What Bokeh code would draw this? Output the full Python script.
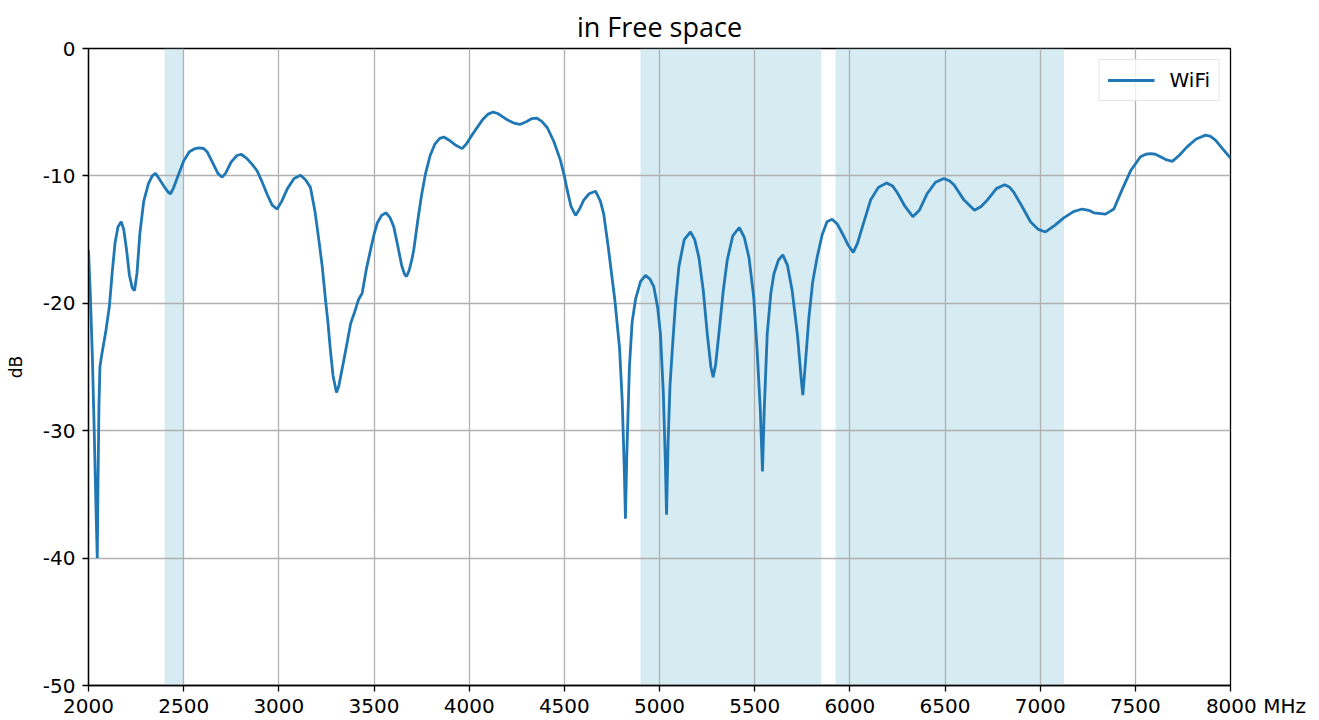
from bokeh.plotting import figure
from bokeh.models import Legend, LegendItem, FixedTicker, ColumnDataSource
from bokeh.embed import file_html
from bokeh.resources import INLINE

# ---- data ----
band_start = [2400, 4900, 5925]
band_end = [2500, 5850, 7125]

freq = [2000, 2010, 2020, 2030, 2040, 2046, 2050, 2055, 2060, 2070, 2090, 2110, 2125, 2140, 2155, 2172,
        2185, 2200, 2215, 2230, 2242, 2255, 2270, 2290, 2315, 2335, 2352, 2375, 2400, 2420, 2431, 2445,
        2470, 2501, 2530, 2560, 2580, 2605, 2623, 2650, 2680, 2702, 2720, 2750, 2780, 2802, 2830, 2860,
        2886, 2910, 2940, 2965, 2991, 3015, 3045, 3080, 3114, 3140, 3166, 3190, 3210, 3228, 3245, 3258,
        3271, 3285, 3303, 3315, 3324, 3341, 3360, 3377, 3400, 3419, 3438, 3460, 3482, 3500, 3517, 3540,
        3564, 3585, 3604, 3625, 3645, 3660, 3671, 3685, 3700, 3709, 3730, 3750, 3771, 3795, 3820, 3845,
        3867, 3895, 3930, 3963, 3985, 4010, 4042, 4070, 4100, 4126, 4150, 4175, 4200, 4235, 4266, 4300,
        4330, 4354, 4380, 4410, 4445, 4480, 4500, 4515, 4535, 4559, 4580, 4602, 4630, 4664, 4690, 4707,
        4730, 4765, 4790, 4804, 4815, 4821, 4828, 4842, 4856, 4874, 4900, 4926, 4950, 4970, 4990, 5005,
        5020, 5030, 5037, 5045, 5055, 5067, 5085, 5102, 5130, 5163, 5185, 5207, 5230, 5251, 5270, 5282,
        5295, 5312, 5335, 5356, 5385, 5419, 5445, 5470, 5495, 5513, 5530, 5541, 5550, 5566, 5585, 5601,
        5625, 5648, 5672, 5697, 5725, 5745, 5753, 5765, 5785, 5805, 5828, 5855, 5880, 5907, 5935, 5960,
        5990, 6018, 6040, 6070, 6109, 6150, 6193, 6225, 6249, 6290, 6331, 6365, 6406, 6450, 6494, 6525,
        6547, 6600, 6655, 6690, 6722, 6770, 6813, 6840, 6862, 6905, 6949, 6990, 7028, 7075, 7124, 7175,
        7221, 7255, 7282, 7343, 7365, 7387, 7430, 7475, 7527, 7555, 7580, 7605, 7632, 7665, 7694, 7730,
        7773, 7820, 7869, 7895, 7921, 7960, 8000]

wifi_db = [-15.8, -19.5, -24.0, -30.0, -36.5, -40.0, -34.0, -28.0, -25.0, -24.0, -22.3, -20.2, -17.5, -15.2, -14.0, -13.6,
           -14.2, -15.8, -17.8, -18.8, -19.0, -17.6, -14.5, -12.0, -10.6, -10.0, -9.8, -10.3, -10.9, -11.3, -11.4, -11.0,
           -10.0, -8.8, -8.1, -7.85, -7.8, -7.85, -8.1, -8.9, -9.8, -10.1, -9.8, -8.9, -8.4, -8.3, -8.6, -9.1,
           -9.6, -10.4, -11.5, -12.3, -12.6, -12.0, -11.0, -10.2, -9.95, -10.3, -10.9, -12.8, -15.0, -17.1, -19.7, -21.5,
           -23.7, -25.7, -27.0, -26.5, -25.8, -24.5, -23.0, -21.6, -20.6, -19.7, -19.2, -17.3, -15.8, -14.6, -13.7, -13.1,
           -12.9, -13.3, -14.0, -15.5, -17.0, -17.7, -17.9, -17.4, -16.5, -15.8, -13.5, -11.5, -9.8, -8.4, -7.5, -7.05,
           -6.95, -7.2, -7.6, -7.86, -7.5, -6.9, -6.2, -5.6, -5.15, -4.99, -5.1, -5.35, -5.6, -5.85, -5.96, -5.75,
           -5.5, -5.46, -5.7, -6.2, -7.3, -8.8, -10.0, -11.1, -12.4, -13.1, -12.6, -11.9, -11.4, -11.2, -12.0, -13.0,
           -15.5, -19.7, -23.5, -27.6, -33.0, -36.9, -32.0, -25.0, -21.5, -19.7, -18.3, -17.8, -18.1, -18.7, -20.3, -22.4,
           -27.0, -32.0, -36.6, -31.0, -26.5, -23.7, -19.8, -17.1, -15.0, -14.4, -15.0, -16.4, -19.0, -22.4, -25.0, -25.8,
           -24.8, -22.4, -19.0, -16.6, -14.7, -14.05, -14.8, -16.4, -19.5, -23.7, -28.5, -33.2, -28.5, -22.4, -19.2, -17.7,
           -16.6, -16.2, -17.0, -19.0, -22.5, -26.0, -27.2, -25.0, -21.1, -18.3, -16.4, -14.6, -13.6, -13.4, -13.8, -14.5,
           -15.4, -16.0, -15.3, -13.8, -11.9, -10.9, -10.55, -10.8, -11.3, -12.4, -13.2, -12.7, -11.4, -10.5, -10.2, -10.4,
           -10.7, -11.9, -12.7, -12.4, -11.9, -11.0, -10.7, -10.9, -11.3, -12.4, -13.6, -14.2, -14.4, -13.9, -13.3, -12.8,
           -12.6, -12.7, -12.9, -13.0, -12.8, -12.6, -11.1, -9.6, -8.5, -8.3, -8.25, -8.3, -8.5, -8.75, -8.86, -8.4,
           -7.7, -7.1, -6.8, -6.9, -7.2, -7.9, -8.6]

x_ticks = [2000, 2500, 3000, 3500, 4000, 4500, 5000, 5500, 6000, 6500, 7000, 7500, 8000]
y_ticks = [-50, -40, -30, -20, -10, 0]
x_unit = "MHz"

# ---- figure ----
p = figure(width=1319, height=720, x_range=(2000, 8000), y_range=(-50, 0),
           output_backend="svg", toolbar_location=None,
           min_border_left=88, min_border_right=89, min_border_top=48, min_border_bottom=0,
           title="in Free space")

p.title.align = "center"
p.title.vertical_align = "top"
p.title.text_font = "Open Sans"
p.title.text_font_size = "27px"
p.title.text_font_style = "normal"
p.title.text_color = "black"
p.title.standoff = 4

# shaded WiFi bands
p.quad(left=band_start, right=band_end, bottom=-50, top=0,
       fill_color="#add8e6", fill_alpha=0.5, line_color=None, level="underlay")

src = ColumnDataSource(dict(f=freq, db=wifi_db))
r = p.line("f", "db", source=src, line_color="#1f77b4", line_width=2.8)

# axes
for ax in (p.xaxis[0], p.yaxis[0]):
    ax.major_label_text_font = "DejaVu Sans"
    ax.major_label_text_font_size = "20px"
    ax.major_label_text_color = "black"
    ax.axis_line_color = "black"
    ax.axis_line_width = 1.3
    ax.major_tick_line_color = "black"
    ax.major_tick_line_width = 1.3
    ax.major_tick_out = 6
    ax.major_tick_in = 0
    ax.minor_tick_line_color = None

p.xaxis.major_label_standoff = 2
p.yaxis.major_label_standoff = 7
p.xaxis.ticker = FixedTicker(ticks=x_ticks)
p.yaxis.ticker = FixedTicker(ticks=y_ticks)

# last x tick carries the unit; non-breaking padding keeps "8000" centred on its tick
x_over = {t: str(t) for t in x_ticks}
x_over[x_ticks[-1]] = "\u00a0" * 8 + str(x_ticks[-1]) + " " + x_unit
p.xaxis.major_label_overrides = x_over
p.yaxis.major_label_overrides = {t: str(t) for t in y_ticks}

p.yaxis.axis_label = "dB"
p.yaxis.axis_label_text_font = "DejaVu Sans"
p.yaxis.axis_label_text_font_size = "17px"
p.yaxis.axis_label_text_font_style = "normal"
p.yaxis.axis_label_text_color = "black"
p.yaxis.axis_label_standoff = 14

p.grid.grid_line_color = "#b0b0b0"
p.grid.grid_line_width = 1.3
p.outline_line_color = "black"
p.outline_line_width = 1.3

legend = Legend(items=[LegendItem(label="WiFi", renderers=[r])], location="top_right")
legend.label_text_font = "DejaVu Sans"
legend.label_text_font_size = "20px"
legend.label_text_color = "black"
legend.glyph_width = 47
legend.label_standoff = 15
legend.border_line_color = "#cccccc"
legend.border_line_width = 1.3
legend.background_fill_alpha = 0.8
legend.margin = 11
legend.padding = 8
p.add_layout(legend)

open("out.html", "w").write(file_html(p, INLINE))
